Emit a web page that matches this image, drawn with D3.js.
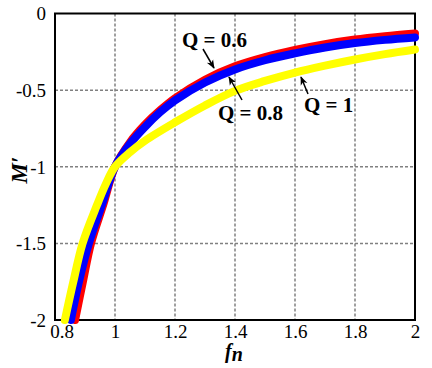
<!DOCTYPE html>
<html><head><meta charset="utf-8">
<script src="https://cdn.jsdelivr.net/npm/d3@7"></script>
<style>body{margin:0;background:#fff} text{font-family:"Liberation Serif","DejaVu Serif",serif}</style>
</head><body>
<svg id="c" width="432" height="368"></svg>
<script>
// ---- data ----
const fnTicks = [0.8, 1, 1.2, 1.4, 1.6, 1.8, 2];
const fnLabels = ["0.8", "1", "1.2", "1.4", "1.6", "1.8", "2"];
const mTicks = [0, -0.5, -1, -1.5, -2];
const mLabels = ["0", "-0.5", "-1", "-1.5", "-2"];

const seriesNames = ["Q = 0.6", "Q = 0.8", "Q = 1"];
const fnQ06 = [0.867, 0.893, 0.92, 0.962, 1.0, 1.05, 1.1, 1.15, 1.2, 1.3, 1.4, 1.5, 1.6, 1.7, 1.8, 1.9, 2.0];
const mQ06  = [-2.0, -1.75, -1.5, -1.24, -1.0, -0.84, -0.725, -0.632, -0.553, -0.432, -0.345, -0.285, -0.238, -0.2, -0.17, -0.148, -0.13];
const fnQ08 = [0.853, 0.88, 0.913, 0.958, 1.0, 1.05, 1.1, 1.15, 1.2, 1.3, 1.4, 1.5, 1.6, 1.7, 1.8, 1.9, 2.0];
const mQ08  = [-2.0, -1.75, -1.5, -1.24, -1.0, -0.85, -0.74, -0.645, -0.567, -0.45, -0.365, -0.305, -0.26, -0.222, -0.193, -0.172, -0.156];
const fnQ1  = [0.833, 0.86, 0.892, 0.94, 0.97, 1.0, 1.05, 1.1, 1.2, 1.3, 1.4, 1.5, 1.6, 1.7, 1.8, 1.9, 2.0];
const mQ1   = [-2.0, -1.76, -1.5, -1.25, -1.11, -1.0, -0.905, -0.83, -0.71, -0.6, -0.505, -0.44, -0.385, -0.34, -0.3, -0.265, -0.235];
const seriesColors = ["#ff0000", "#0000ff", "#ffff00"];

// ---- layout ----
const L = 55, R = 415, T = 13.5, B = 320;
const svg = d3.select("#c");
const x = d3.scaleLinear().domain([0.8, 2]).range([L, R]);
const y = d3.scaleLinear().domain([0, -2]).range([T, B]);
const serif = "Liberation Serif, DejaVu Serif, serif";

// grid
const grid = svg.append("g").attr("stroke", "#808080").attr("stroke-width", 1.5).attr("stroke-dasharray", "3,2");
grid.selectAll("line.v").data(fnTicks.slice(1, -1)).join("line").attr("class", "v")
  .attr("x1", d => x(d)).attr("x2", d => x(d)).attr("y1", T).attr("y2", B);
grid.selectAll("line.h").data(mTicks.slice(1, -1)).join("line").attr("class", "h")
  .attr("x1", L).attr("x2", R).attr("y1", d => y(d)).attr("y2", d => y(d));

// axes labels
const gx = svg.append("g").attr("transform", `translate(0,${B})`)
  .call(d3.axisBottom(x).tickValues(fnTicks).tickFormat((d, i) => fnLabels[i]).tickSize(0));
gx.select(".domain").remove();
gx.attr("font-family", serif).attr("font-size", 19);
gx.selectAll("text").attr("y", 18).attr("dy", 0).attr("fill", "#000").style("font-family", serif);
gx.selectAll("text").filter((d, i) => i === 0).attr("x", 6.5);

const gy = svg.append("g").attr("transform", `translate(${L},0)`)
  .call(d3.axisLeft(y).tickValues(mTicks).tickFormat((d, i) => mLabels[i]).tickSize(0).tickPadding(9));
gy.select(".domain").remove();
gy.attr("font-family", serif).attr("font-size", 19);
gy.selectAll("text").attr("fill", "#000").attr("dy", "0.33em").style("font-family", serif);

// frame
svg.append("rect").attr("x", L).attr("y", T).attr("width", R - L).attr("height", B - T)
  .attr("fill", "none").attr("stroke", "#000").attr("stroke-width", 2);

// curves
const line = d3.line().x(d => x(d[0])).y(d => y(d[1])).curve(d3.curveCatmullRom.alpha(0.5));
const series = [
  d3.zip(fnQ06, mQ06),
  d3.zip(fnQ08, mQ08),
  d3.zip(fnQ1, mQ1)
];
svg.append("g").selectAll("path").data(series).join("path")
  .attr("d", line).attr("fill", "none")
  .attr("stroke", (d, i) => seriesColors[i]).attr("stroke-width", 8)
  .attr("stroke-linecap", "round").attr("stroke-linejoin", "round");

// axis titles
svg.append("text").attr("transform", "translate(27,170) rotate(-90)")
  .attr("text-anchor", "middle").attr("font-size", 23)
  .attr("font-weight", "bold").attr("font-style", "italic").style("font-family", serif).text("M\u2032");
const ft = svg.append("text").attr("x", 234).attr("y", 358).attr("text-anchor", "middle")
  .attr("font-size", 20).attr("font-weight", "bold").attr("font-style", "italic").style("font-family", serif);
ft.append("tspan").text("f");
ft.append("tspan").attr("dy", 3).text("n");

// annotations
const defs = svg.append("defs");
defs.append("marker").attr("id", "ah").attr("viewBox", "0 0 10 10").attr("refX", 9).attr("refY", 5)
  .attr("markerWidth", 9).attr("markerHeight", 9).attr("markerUnits", "userSpaceOnUse").attr("orient", "auto")
  .append("path").attr("d", "M0,1 L10,5 L0,9 L3,5 Z").attr("fill", "#000");

const annText = [[182, 47], [218, 120], [304, 112]];
const annArrow = [[203, 49, 214, 68], [242, 100, 229, 77], [308, 94, 301, 77]];
svg.append("g").selectAll("text").data(seriesNames).join("text")
  .attr("x", (d, i) => annText[i][0]).attr("y", (d, i) => annText[i][1])
  .attr("font-size", 21).attr("font-weight", "bold").style("font-family", serif).text(d => d);
svg.append("g").selectAll("line").data(annArrow).join("line")
  .attr("x1", d => d[0]).attr("y1", d => d[1]).attr("x2", d => d[2]).attr("y2", d => d[3])
  .attr("stroke", "#000").attr("stroke-width", 1.5).attr("marker-end", "url(#ah)");
</script>
</body></html>
